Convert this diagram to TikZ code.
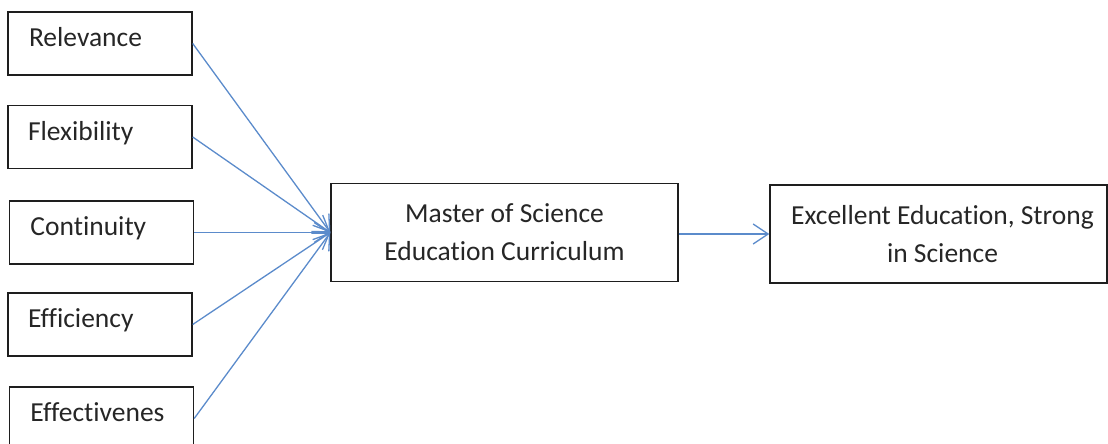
\documentclass[tikz,border=0pt]{standalone}
\usepackage{fontspec}
\setmainfont{Carlito}[Ligatures={NoCommon,NoContextual}]
\usetikzlibrary{arrows.meta}
\definecolor{frame}{HTML}{1E1E1E}
\definecolor{flow}{HTML}{5B8BCB}
\definecolor{ink}{HTML}{262626}
\begin{document}
\begin{tikzpicture}[x=1pt,y=-1pt,
  every node/.style={font=\fontsize{27.5}{38}\selectfont, text=ink},
  factor/.style={draw=frame, line width=1.4pt, minimum width=184pt, minimum height=63pt,
    text width=150pt, align=left, inner xsep=0pt, text height=18pt, text depth=12pt},
  stage/.style={draw=frame, line width=1.4pt, minimum height=98pt, align=center, inner sep=0pt},
  link/.style={draw=flow, line width=1.3pt, -{Straight Barb[length=15pt,width=20pt,line width=1.3pt]}}
]
\useasboundingbox (0,0) rectangle (1108,444);
% criteria on the left
\node[factor] (rel) at (100,43.5) {\hspace*{4pt}Relevance};
\node[factor] (flx) at (100,137)  {\hspace*{3pt}Flexibility};
\node[factor] (con) at (101.5,232.5) {\hspace*{4pt}Continuity};
\node[factor] (eff) at (100,324.5) {\hspace*{3pt}Efficiency};
\node[factor] (efv) at (101.5,418.5) {\hspace*{4pt}Effectivenes};
% curriculum and outcome
\node[stage, minimum width=347pt] (cur) at (504.5,232.5) {Master of Science\\Education Curriculum};
\node[stage, minimum width=337pt] (out) at (938.5,234) {\hspace*{8pt}Excellent Education, Strong\\\hspace*{8pt}in Science};
% converging arrows
\foreach \src in {rel,flx,con,eff,efv}
  \draw[link] (\src.east) -- (cur.west);
\draw[link] (cur.east |- out.west) -- (out.west);
\end{tikzpicture}
\end{document}
